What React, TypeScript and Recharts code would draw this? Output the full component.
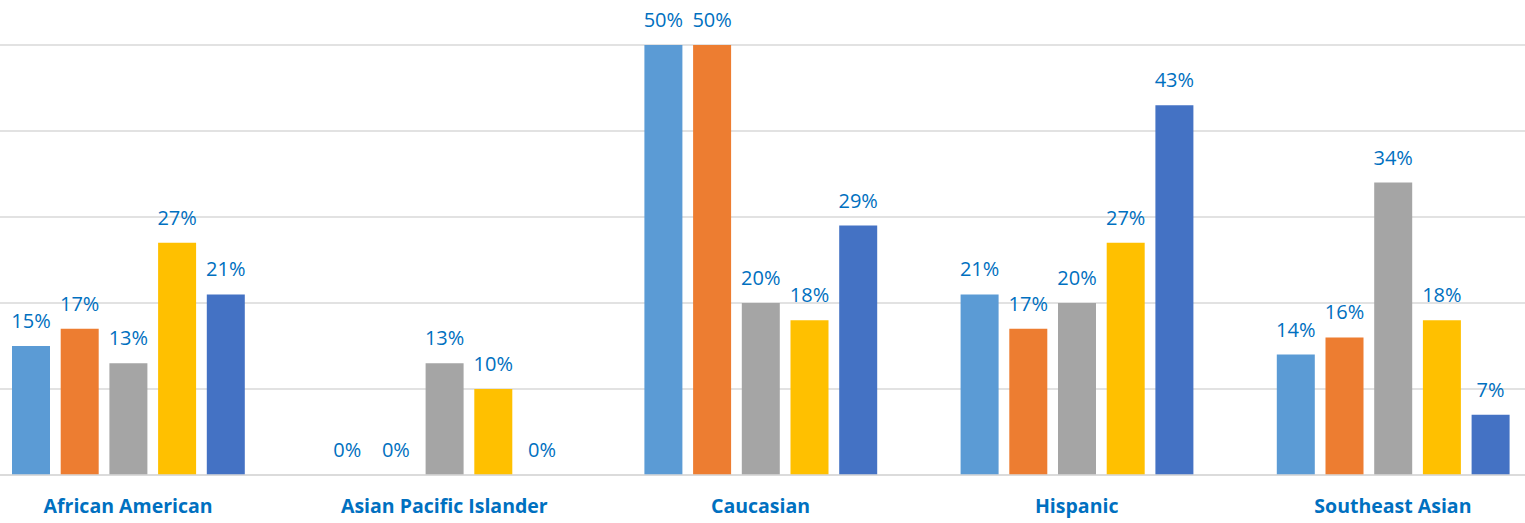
import { BarChart, Bar, XAxis, YAxis, CartesianGrid, LabelList } from 'recharts';

const categories = ['African American', 'Asian Pacific Islander', 'Caucasian', 'Hispanic', 'Southeast Asian'];
const series1 = [15, 0, 50, 21, 14];
const series2 = [17, 0, 50, 17, 16];
const series3 = [13, 13, 20, 20, 34];
const series4 = [27, 10, 18, 27, 18];
const series5 = [21, 0, 29, 43, 7];
const yTicks = [0, 10, 20, 30, 40, 50];

const seriesList = [
  { key: 's1', values: series1, color: '#5B9BD5' },
  { key: 's2', values: series2, color: '#ED7D31' },
  { key: 's3', values: series3, color: '#A5A5A5' },
  { key: 's4', values: series4, color: '#FFC000' },
  { key: 's5', values: series5, color: '#4472C4' },
];

const data = categories.map((name, i) => {
  const row: Record<string, string | number> = { name };
  seriesList.forEach((s) => {
    row[s.key] = s.values[i];
  });
  return row;
});

const FONT = '"Open Sans", sans-serif';
const BLUE = '#0070C0';

function CategoryTick(props: any) {
  const { x, y, payload } = props;
  return (
    <text
      x={x}
      y={y + 30}
      textAnchor="middle"
      fill={BLUE}
      fontFamily={FONT}
      fontWeight={700}
      fontSize={19.5}
    >
      {payload.value}
    </text>
  );
}

export default function App() {
  return (
    <div style={{ position: 'absolute', left: 0, top: 0, width: 1525, height: 523, overflow: 'hidden', background: '#fff' }}>
      <div style={{ marginLeft: -30 }}>
        <BarChart
          width={1581}
          height={523}
          data={data}
          margin={{ top: 45, right: 0, bottom: 0, left: 0 }}
          barSize={38}
          barGap={10.7}
        >
          <CartesianGrid vertical={false} stroke="#D9D9D9" strokeWidth={1.5} />
          <XAxis
            dataKey="name"
            height={48}
            axisLine={{ stroke: '#D9D9D9', strokeWidth: 1.5 }}
            tickLine={false}
            tick={<CategoryTick />}
            interval={0}
          />
          <YAxis hide domain={[0, 50]} ticks={yTicks} />
          {seriesList.map((s) => (
            <Bar key={s.key} dataKey={s.key} fill={s.color} minPointSize={0.1} isAnimationActive={false}>
              <LabelList
                dataKey={s.key}
                position="top"
                offset={18}
                formatter={(v: any) => `${v}%`}
                fill={BLUE}
                fontFamily={FONT}
                fontSize={20}
              />
            </Bar>
          ))}
        </BarChart>
      </div>
    </div>
  );
}
